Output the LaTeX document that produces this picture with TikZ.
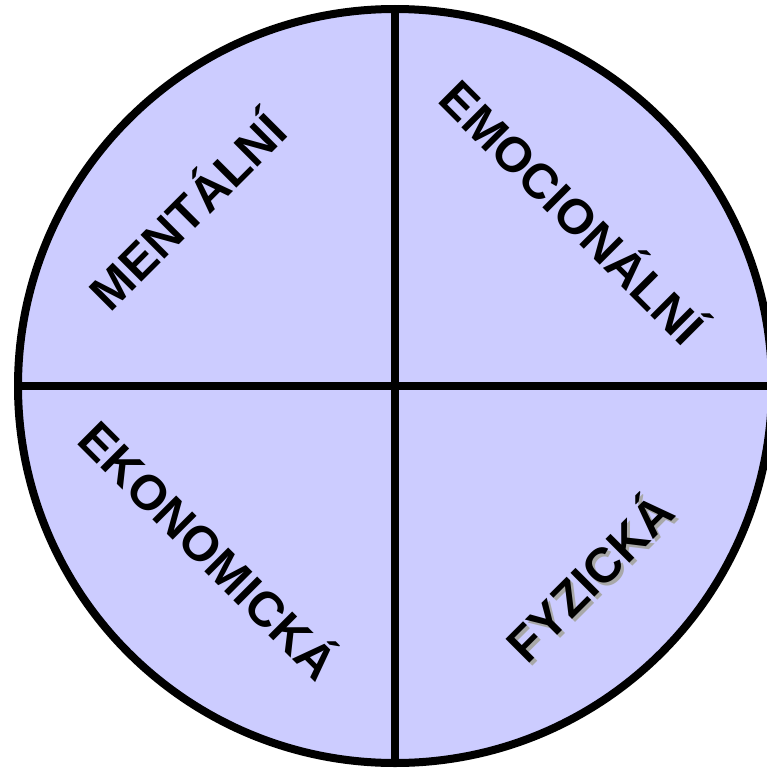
\documentclass[tikz,border=0pt]{standalone}
\usepackage{fontspec}
\setmainfont{Liberation Sans}
\usetikzlibrary{positioning}
\definecolor{wheelfill}{HTML}{CCCCFF}
\definecolor{shade}{HTML}{A8A8A8}
\tikzset{
  wheel/.style={circle, draw=black, fill=wheelfill, line width=8pt,
                minimum size=754pt, inner sep=0pt},
  split/.style={draw=black, line width=8pt},
  lbl/.style={font=\fontsize{49}{52}\selectfont\bfseries, inner sep=0pt},
  lblshade/.style={lbl, text=shade}
}
\begin{document}
\begin{tikzpicture}[x=1pt,y=-1pt]
  \useasboundingbox (0,0) rectangle (766,768);

  % the wheel
  \node[wheel] (wheel) at (395,386) {};
  \draw[split] (wheel.north) -- (wheel.south);
  \draw[split] (wheel.west) -- (wheel.east);

  % quadrant labels
  \node[lbl, rotate=45] (mental) at (185,209) {MENTÁLNÍ};
  \node[lbl, rotate=-45] (emoc) at (575,210) {EMOCIONÁLNÍ};
  \node[lbl, rotate=-45] (ekon) at (211,548) {EKONOMICKÁ};
  \node[lblshade, rotate=45] at (590,578) {FYZICKÁ};
  \node[lbl, rotate=45] (fyz) at (587,575) {FYZICKÁ};
\end{tikzpicture}
\end{document}
